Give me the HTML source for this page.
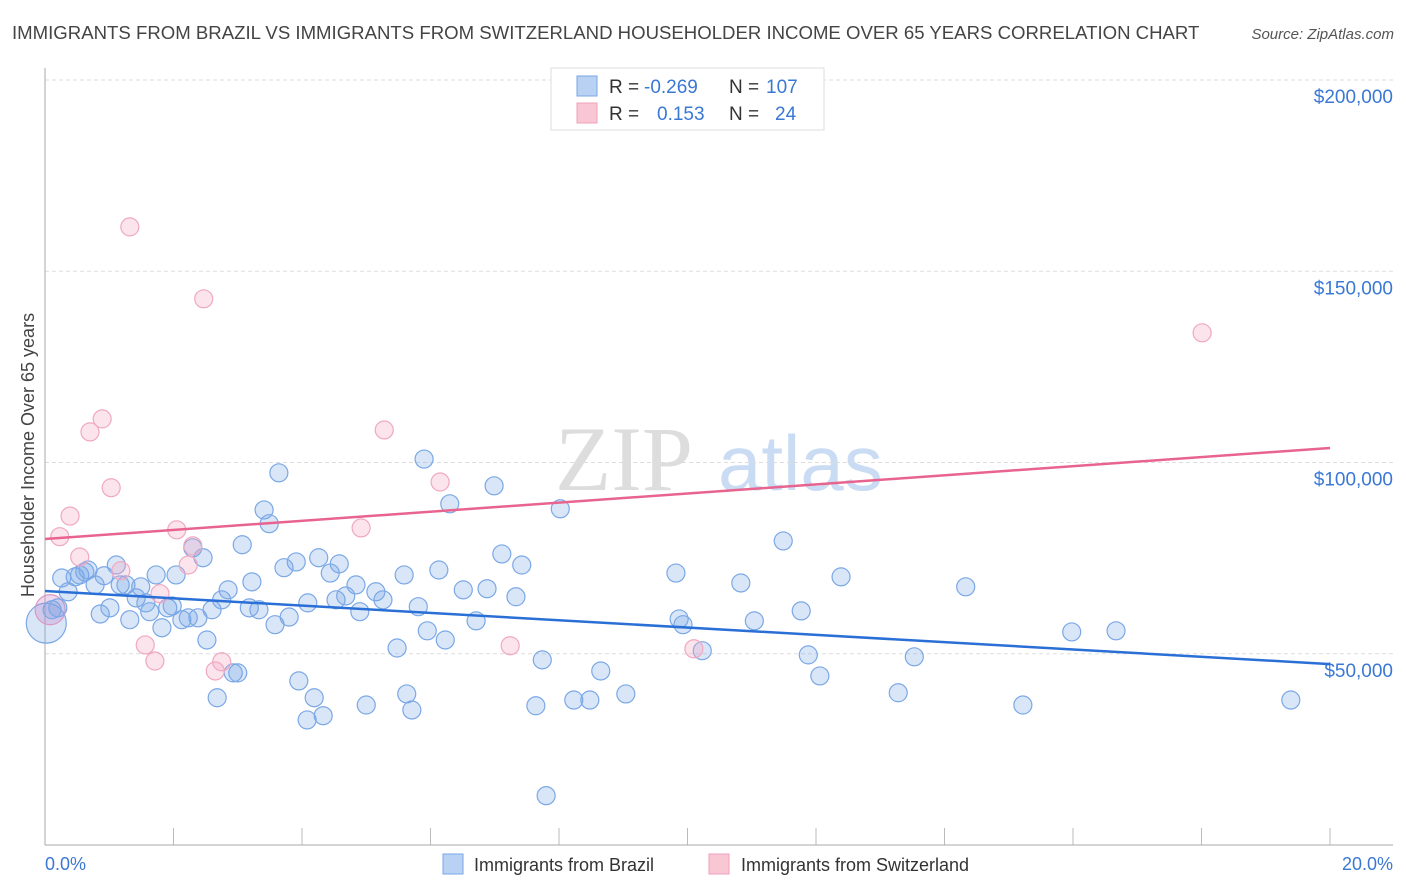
<!DOCTYPE html>
<html><head><meta charset="utf-8"><style>
body{margin:0;background:#fff;font-family:"Liberation Sans",sans-serif;}
svg{display:block}
</style></head><body>
<svg id="chart" width="1406" height="892" xmlns="http://www.w3.org/2000/svg" font-family="Liberation Sans, sans-serif">
<text x="12" y="39" font-size="18.6" fill="#444">IMMIGRANTS FROM BRAZIL VS IMMIGRANTS FROM SWITZERLAND HOUSEHOLDER INCOME OVER 65 YEARS CORRELATION CHART</text>
<text x="1394" y="39" font-size="15" fill="#555" text-anchor="end" font-style="italic">Source: ZipAtlas.com</text>
<g>
<text x="555" y="490" font-size="92" fill="#ddd" font-family="Liberation Serif, serif">ZIP</text>
<text x="718" y="490" font-size="78" fill="#c9dcf3">atlas</text>
</g>
<g id="grid"></g>
<g id="yticks"></g>
<g id="xticks"></g>
<line x1="45" y1="68" x2="45" y2="845" stroke="#aaa"/>
<line x1="45" y1="845" x2="1393" y2="845" stroke="#aaa"/>
<text transform="translate(34,455) rotate(-90)" font-size="18" fill="#444" text-anchor="middle">Householder Income Over 65 years</text>
<text x="45" y="870" font-size="18" fill="#3a78d4">0.0%</text>
<text x="1393" y="870" font-size="18" fill="#3a78d4" text-anchor="end">20.0%</text>
<g id="points"></g>
<g id="lines"></g>
<g>
<rect x="551" y="68" width="273" height="62" fill="#fff" stroke="#ddd"/>
<rect x="577" y="76" width="20" height="20" fill="#b9d1f3" stroke="#7aa6e6"/>
<rect x="577" y="103" width="20" height="20" fill="#f9c6d4" stroke="#eea0b8"/>
<text x="609" y="93" font-size="19" fill="#333">R = <tspan fill="#3a78d4" x="644">-0.269</tspan><tspan x="729">N = </tspan><tspan fill="#3a78d4" x="766">107</tspan></text>
<text x="609" y="120" font-size="19" fill="#333">R = <tspan fill="#3a78d4" x="657">0.153</tspan><tspan x="729">N = </tspan><tspan fill="#3a78d4" x="775">24</tspan></text>
</g>
<g>
<rect x="443" y="854" width="20" height="20" fill="#b9d1f3" stroke="#7aa6e6"/>
<text x="474" y="871" font-size="18" fill="#333">Immigrants from Brazil</text>
</g>
<g>
<rect x="709" y="854" width="20" height="20" fill="#f9c6d4" stroke="#eea0b8"/>
<text x="741" y="871" font-size="18" fill="#333">Immigrants from Switzerland</text>
</g>
</svg>
<script>
const yTickValues=[50000,100000,150000,200000];
const yTickLabels=["$50,000","$100,000","$150,000","$200,000"];
const xTickValues=[0,2,4,6,8,10,12,14,16,18,20];
const brazilX=[0.26,0.36,0.47,0.54,0.62,0.67,0.78,0.86,0.92,1.01,1.11,1.17,1.26,1.32,1.42,1.49,1.57,1.63,1.73,1.82,1.91,1.98,2.04,2.13,2.23,2.30,2.38,2.46,2.52,2.60,2.68,2.75,2.85,2.93,3.00,3.07,3.18,3.22,3.33,3.41,3.49,3.58,3.64,3.72,3.80,3.91,3.95,4.09,4.08,4.19,4.26,4.33,4.44,4.53,4.58,4.68,4.84,4.90,5.00,5.15,5.26,5.48,5.59,5.63,5.71,5.81,5.90,5.95,6.13,6.23,6.30,6.51,6.71,6.88,6.99,7.11,7.33,7.42,7.64,7.74,7.80,8.02,8.23,8.48,8.65,9.04,9.82,9.87,9.93,10.23,10.83,11.04,11.49,11.77,11.88,12.06,12.39,13.28,13.53,14.33,15.22,15.98,16.67,19.39,0.11,0.20];
const brazilY=[69.8,66.2,70.1,70.6,71.4,71.9,68.0,60.4,70.4,62.0,73.2,68.0,68.0,58.9,64.6,67.5,63.3,61.0,70.6,56.8,62.0,62.5,70.6,58.9,59.4,77.7,59.4,75.1,53.6,61.5,38.5,64.1,66.7,45.0,45.0,78.5,62.0,68.8,61.5,87.6,84.0,57.6,97.3,72.5,59.6,74.0,42.9,63.3,32.7,38.5,75.1,33.8,71.1,64.1,73.5,65.1,68.0,61.0,36.6,66.2,64.1,51.5,70.6,39.5,35.3,62.3,100.9,56.0,71.9,53.6,89.2,66.7,58.6,67.0,93.9,76.1,64.9,73.2,36.4,48.4,12.9,87.9,37.9,37.9,45.5,39.5,71.1,59.1,57.6,50.8,68.5,58.6,79.5,61.2,49.7,44.2,70.1,39.8,49.2,67.5,36.6,55.7,56.0,37.9,61.5,62.0];
const brazilBigX=[0.02];
const brazilBigY=[58.0];
const swissX=[0.23,0.39,0.54,0.70,0.89,1.03,1.18,1.32,1.56,1.71,1.79,2.05,2.23,2.30,2.47,2.65,2.75,4.92,5.28,6.15,7.24,10.10,18.01];
const swissY=[80.6,86.0,75.3,108.0,111.4,93.4,71.7,161.6,52.3,48.1,65.7,82.4,73.2,78.2,142.8,45.5,47.9,82.9,108.5,94.9,52.1,51.3,133.9];
const swissBigX=[0.08];
const swissBigY=[61.5];
const brazilTrend=[66.4,47.3];
const swissTrend=[80.0,103.8];

const NS="http://www.w3.org/2000/svg";
function xs(p){return 45+p/20*1285;}
function ys(k){return 845-k/200*765;}
function mk(tag,attrs,parent){const e=document.createElementNS(NS,tag);for(const k in attrs)e.setAttribute(k,attrs[k]);parent.appendChild(e);return e;}
const grid=document.getElementById('grid'),yt=document.getElementById('yticks'),xt=document.getElementById('xticks');
yTickValues.forEach((v,i)=>{
  const y=ys(v/1000);
  const l=mk('line',{x1:45,x2:1393,y1:y,y2:y,stroke:'#ddd','stroke-dasharray':'4,3'},grid);
  
  
  const t=mk('text',{x:1393,y:y+23,'font-size':19,fill:'#3a78d4','text-anchor':'end'},yt);
  t.textContent=yTickLabels[i];
  
  
});
xTickValues.forEach(v=>{
  const x=xs(v);
  const l=mk('line',{x1:x,x2:x,y1:828,y2:845,stroke:'#bbb'},xt);
  
  
});
const pts=document.getElementById('points');
function dot(x,y,r,fill,stroke,name){
  const c=mk('circle',{cx:xs(x),cy:ys(y),r:r,fill:fill,stroke:stroke,'stroke-width':1.2},pts);
  
  
}
brazilBigX.forEach((x,i)=>dot(x,brazilBigY[i],20,'rgba(120,165,230,0.28)','#7ba8e6','brazil-point'));
swissBigX.forEach((x,i)=>dot(x,swissBigY[i],15,'rgba(200,130,200,0.3)','#dc98c0','switzerland-point'));
brazilX.forEach((x,i)=>dot(x,brazilY[i],9,'rgba(120,165,230,0.28)','#7ba8e6','brazil-point'));
swissX.forEach((x,i)=>dot(x,swissY[i],9,'rgba(245,165,195,0.3)','#f0a8c0','switzerland-point'));
const lines=document.getElementById('lines');
const bl=mk('line',{x1:xs(0),y1:ys(brazilTrend[0]),x2:xs(20),y2:ys(brazilTrend[1]),stroke:'#2a6fd6','stroke-width':2.5},lines);


const sl=mk('line',{x1:xs(0),y1:ys(swissTrend[0]),x2:xs(20),y2:ys(swissTrend[1]),stroke:'#e8648f','stroke-width':2.5},lines);


</script>
</body></html>
